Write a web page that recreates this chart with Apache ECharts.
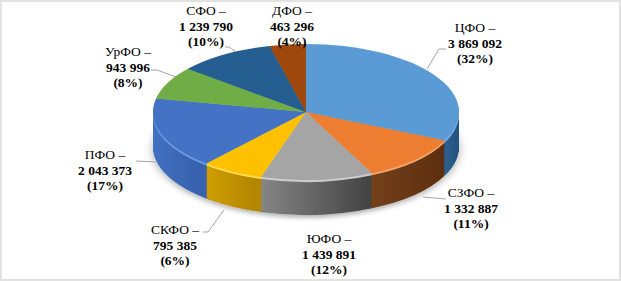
<!DOCTYPE html>
<html><head><meta charset="utf-8">
<script src="https://cdn.jsdelivr.net/npm/echarts@6/dist/echarts.min.js"></script>
<style>
html,body{margin:0;padding:0;background:#fff;}
#wrap{position:relative;width:621px;height:281px;overflow:hidden;background:#fff;}
#pie{position:absolute;left:0;top:0;width:621px;transform-origin:0 0;}
#labels{position:absolute;left:0;top:0;width:621px;height:281px;}
#frame{position:absolute;left:0;top:0;width:621px;height:281px;box-sizing:border-box;border:2px solid #e2e2e2;pointer-events:none;}
</style></head><body>
<div id="wrap"><div id="pie"></div><div id="labels"></div><div id="frame"></div></div>
<script>
// ---- data ----
const categories = ['ЦФО', 'СЗФО', 'ЮФО', 'СКФО', 'ПФО', 'УрФО', 'СФО', 'ДФО'];
const values = [3869092, 1332887, 1439891, 795385, 2043373, 943996, 1239790, 463296];
const percents = [32, 11, 12, 6, 17, 8, 10, 4];

// ---- styles ----
const topColors = ['#5B9BD5', '#ED7D31', '#A5A5A5', '#FFC000', '#4472C4', '#70AD47', '#255E91', '#9E480E'];
const sideColors = [
  ['#2f6496', '#234f7a'], ['#74401a', '#5a2c0e'], ['#8a8a8a', '#3c3c3c'], ['#d6a400', '#b38600'],
  ['#4272c4', '#3862ad'], ['#4f7f33', '#3f6a28'], ['#1b4670', '#163b5e'], ['#763508', '#5e2a06']
];
const sideSpan = [[440, 462], [371, 452], [253, 381], [195, 254], [150, 196], [150, 200], [200, 300], [280, 310]];
const highlightColors = ['#7fb2e2', '#f5a56a', '#cdcdcd', '#ffdb4d', '#6f9be6', '#95c675', '#4f7fae', '#c46a30'];

// ---- layout ----
const CX = 306, CY = 112, RX = 153, RY = 68, DEPTH = 35;
const K = RY / RX;
const LABEL_X = [475, 471, 329, 175, 105, 128, 206, 292];
const LABEL_TOP = [20, 185, 231, 222, 147, 44, 3, 3];
const LEADERS = [
  [[427, 69], [439, 49], [446, 49]],
  [[423, 197], [446, 199]],
  null,
  [[224, 210], [208, 232], [203, 232]],
  [[136, 161], [156, 162]],
  [[151, 70], [157, 70], [176, 77]],
  [[225, 47], [229, 47], [236, 52]],
  null
];

function fmt(v) { return String(v).replace(/\B(?=(\d{3})+(?!\d))/g, ' '); }

// ---- pie body (drawn circular, squeezed vertically into an ellipse) ----
const pieDiv = document.getElementById('pie');
const H = Math.ceil(281 / K) + 2;
pieDiv.style.height = H + 'px';
pieDiv.style.transform = 'scaleY(' + K + ')';
const pieChart = echarts.init(pieDiv, null, { renderer: 'svg' });
const cyA = CY / K;
const series = [];
let z = 1;
for (let d = DEPTH; d >= 1; d--) {
  const data = categories.map((c, j) => {
    let color;
    if (d <= 2) color = highlightColors[j];
    else color = {
      type: 'linear', x: sideSpan[j][0], y: 0, x2: sideSpan[j][1], y2: 0, global: true,
      colorStops: [{ offset: 0, color: sideColors[j][0] }, { offset: 1, color: sideColors[j][1] }]
    };
    const item = { name: c, value: values[j], itemStyle: { color: color } };
    if (d === DEPTH) {
      item.itemStyle.shadowBlur = 10;
      item.itemStyle.shadowColor = 'rgba(0,0,0,0.3)';
      item.itemStyle.shadowOffsetY = 6;
    }
    return item;
  });
  series.push({
    type: 'pie', z: z++, silent: true, startAngle: 90, clockwise: true,
    center: [CX, cyA + d / K], radius: RX,
    label: { show: false }, labelLine: { show: false },
    itemStyle: { borderWidth: 0 },
    data: data
  });
}
series.push({
  type: 'pie', z: z++, silent: true, startAngle: 90, clockwise: true,
  center: [CX, cyA], radius: RX,
  label: { show: false }, labelLine: { show: false },
  itemStyle: { borderWidth: 0 },
  data: categories.map((c, j) => ({ name: c, value: values[j], itemStyle: { color: topColors[j] } }))
});
pieChart.setOption({ animation: false, series: series });

// ---- labels ----
const labelChart = echarts.init(document.getElementById('labels'), null, { renderer: 'svg' });
const FONT = '"Liberation Serif", "Times New Roman", serif';
labelChart.setOption({
  animation: false,
  series: [{
    type: 'pie', startAngle: 90, clockwise: true, center: [CX, CY], radius: RX, silent: true,
    avoidLabelOverlap: false,
    itemStyle: { color: 'rgba(0,0,0,0)', borderWidth: 0 },
    data: categories.map((c, i) => ({ name: c, value: values[i], labelLine: { show: LEADERS[i] != null } })),
    label: {
      show: true, position: 'outside',
      formatter: p => '{n|' + p.name + ' –}\n{v|' + fmt(p.value) + '}\n{v|(' + percents[p.dataIndex] + '%)}',
      rich: {
        n: { fontFamily: FONT, fontSize: 13.5, color: '#000', lineHeight: 15.5 },
        v: { fontFamily: FONT, fontSize: 13.5, fontWeight: 'bold', color: '#000', lineHeight: 15.5 }
      }
    },
    labelLine: { show: true, lineStyle: { color: '#a6a6a6', width: 1 } },
    labelLayout: p => {
      const i = p.dataIndex;
      const o = { x: LABEL_X[i], y: LABEL_TOP[i], align: 'center', verticalAlign: 'top' };
      if (LEADERS[i]) o.labelLinePoints = LEADERS[i];
      return o;
    }
  }]
});
</script>
</body></html>
